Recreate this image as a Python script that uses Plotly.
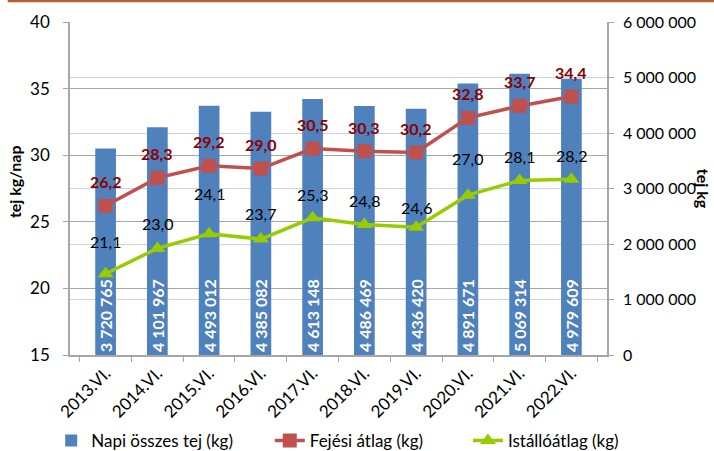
import plotly.graph_objects as go

categories = ["2013.VI.", "2014.VI.", "2015.VI.", "2016.VI.", "2017.VI.",
              "2018.VI.", "2019.VI.", "2020.VI.", "2021.VI.", "2022.VI."]
napi_osszes_tej = [3720765, 4101967, 4493012, 4385082, 4613148,
                   4486469, 4436420, 4891671, 5069314, 4979609]
fejesi_atlag = [26.2, 28.3, 29.2, 29.0, 30.5, 30.3, 30.2, 32.8, 33.7, 34.4]
istallo_atlag = [21.1, 23.0, 24.1, 23.7, 25.3, 24.8, 24.6, 27.0, 28.1, 28.2]

left_ticks = [15, 20, 25, 30, 35, 40]
right_ticks = [0, 1000000, 2000000, 3000000, 4000000, 5000000, 6000000]

# label pixel offsets (layout only)
fejesi_label_shift = 24
istallo_label_shift = [32, 25, 40, 26, 23, 24, 20, 37, 24, 24]

FONT = "Lato, 'Open Sans', sans-serif"
BLUE = "#4F81BD"
RED = "#C0504D"
GREEN = "#99CC00"
DARKRED = "#8B0000"
GRAY = "#A6A6A6"
LIGHTBLUE = "#C5D5EA"


def spaced(v):
    return f"{int(v):,}".replace(",", " ")


def dec(v):
    return f"{v:.1f}".replace(".", ",")


fig = go.Figure()

fig.add_trace(go.Bar(
    x=categories, y=napi_osszes_tej, name="Napi összes tej (kg)",
    marker=dict(color=BLUE, line=dict(width=0)),
    text=[spaced(v) for v in napi_osszes_tej],
    textposition="inside", insidetextanchor="start", textangle=-90,
    constraintext="none",
    textfont=dict(color="white", size=16, family=FONT, weight="bold"),
    yaxis="y", legend="legend",
))

fig.add_trace(go.Scatter(
    x=categories, y=fejesi_atlag, name="Fejési átlag (kg)",
    mode="lines+markers",
    line=dict(color=RED, width=3.5),
    marker=dict(symbol="square", size=14, color=RED),
    yaxis="y2", legend="legend2",
))

fig.add_trace(go.Scatter(
    x=categories, y=istallo_atlag, name="Istállóátlag (kg)",
    mode="lines+markers",
    line=dict(color=GREEN, width=3.5),
    marker=dict(symbol="triangle-up", size=14, color=GREEN),
    yaxis="y2", legend="legend3",
))

annotations = []
for c, v in zip(categories, fejesi_atlag):
    annotations.append(dict(
        x=c, y=v, xref="x", yref="y2", text=dec(v), showarrow=False,
        yshift=fejesi_label_shift,
        font=dict(color=DARKRED, size=16, family=FONT, weight="bold"),
    ))
for c, v, s in zip(categories, istallo_atlag, istallo_label_shift):
    annotations.append(dict(
        x=c, y=v, xref="x", yref="y2", text=dec(v), showarrow=False,
        yshift=s,
        font=dict(color="black", size=16, family=FONT),
    ))

# axis titles
annotations.append(dict(
    x=-0.102, y=0.52, xref="paper", yref="paper", text="tej kg/nap",
    showarrow=False, textangle=-90, xanchor="center", yanchor="middle",
    font=dict(color="black", size=16, family=FONT, weight="bold"),
))
annotations.append(dict(
    x=1.18, y=0.5, xref="paper", yref="paper", text="tej kg",
    showarrow=False, textangle=90, xanchor="center", yanchor="middle",
    font=dict(color="black", size=16, family=FONT, weight="bold"),
))

legend_common = dict(
    orientation="h", y=-0.258, yanchor="middle", xanchor="left",
    font=dict(size=17, family=FONT, color="black"),
    bgcolor="rgba(0,0,0,0)",
)

fig.update_layout(
    width=714, height=451,
    margin=dict(l=70, r=107, t=22, b=96, autoexpand=False),
    paper_bgcolor="white", plot_bgcolor="white",
    font=dict(family=FONT, color="black", size=16),
    bargap=0.6,
    showlegend=True,
    legend=dict(x=-0.035, **legend_common),
    legend2=dict(x=0.372, **legend_common),
    legend3=dict(x=0.741, **legend_common),
    xaxis=dict(
        showgrid=False, showline=True, linecolor=GRAY, linewidth=1.5,
        ticks="outside", tickson="boundaries", ticklen=5, tickcolor=GRAY,
        tickangle=-45, tickfont=dict(size=17, family=FONT), automargin=False,
    ),
    yaxis=dict(
        side="right", range=[0, 6000000], tickvals=right_ticks,
        ticktext=[spaced(v) for v in right_ticks],
        showgrid=True, gridcolor=LIGHTBLUE, gridwidth=1.3,
        zeroline=False, showline=True, linecolor=GRAY, linewidth=1.5,
        ticks="outside", ticklen=5, tickcolor=GRAY, ticklabelstandoff=6,
        tickfont=dict(size=16, family=FONT), automargin=False,
    ),
    yaxis2=dict(
        overlaying="y", side="left", range=[15, 40], tickvals=left_ticks,
        showgrid=True, gridcolor=GRAY, gridwidth=1.3,
        zeroline=False, showline=True, linecolor=GRAY, linewidth=1.5,
        ticks="outside", ticklen=5, tickcolor=GRAY, ticklabelstandoff=10,
        tickfont=dict(size=17, family=FONT), automargin=False,
    ),
    annotations=annotations,
    shapes=[dict(
        type="line", xref="paper", yref="paper",
        x0=-0.116, x1=1.2, y0=1.063, y1=1.063,
        line=dict(color="#B5602E", width=2.5),
    )],
)

fig.write_html(
    "out.html",
    config={"displayModeBar": False},
    post_script="document.body.style.margin='0';document.body.style.overflow='hidden';",
)
